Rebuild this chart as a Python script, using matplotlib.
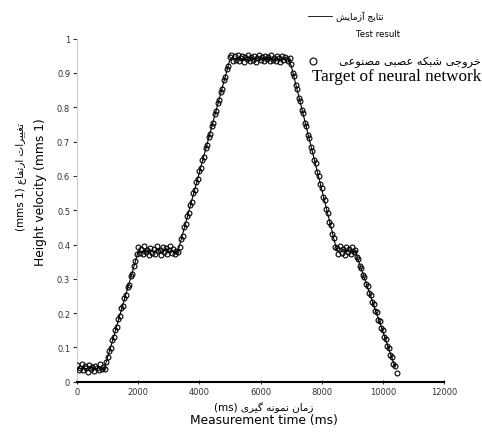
import numpy as np
import matplotlib
matplotlib.use("Agg")
import matplotlib.pyplot as plt
from matplotlib.lines import Line2D

# sampling times (ms)
t_test = np.arange(0, 10500, 100)
t_net = np.arange(0, 10500, 50)

# test result (measured height velocity)
test_result = [
    0.045, 0.038, 0.042, 0.035, 0.044, 0.039, 0.036, 0.043, 0.037, 0.041,
    0.072, 0.102, 0.133, 0.164, 0.195, 0.226, 0.257, 0.287, 0.318, 0.349,
    0.382, 0.376, 0.385, 0.379, 0.384, 0.377, 0.386, 0.381, 0.375, 0.388,
    0.379, 0.383, 0.376, 0.381, 0.413, 0.446, 0.479, 0.512, 0.545, 0.577,
    0.610, 0.643, 0.676, 0.709, 0.742, 0.775, 0.808, 0.841, 0.874, 0.907,
    0.940, 0.944, 0.936, 0.947, 0.939, 0.943, 0.935, 0.946, 0.938, 0.942,
    0.937, 0.945, 0.939, 0.943, 0.936, 0.944, 0.940, 0.937, 0.942, 0.938,
    0.922, 0.886, 0.850, 0.814, 0.778, 0.741, 0.705, 0.669, 0.633, 0.597,
    0.561, 0.525, 0.489, 0.453, 0.416, 0.383, 0.377, 0.386, 0.379, 0.384,
    0.376, 0.381, 0.354, 0.328, 0.302, 0.276, 0.250, 0.224, 0.198, 0.173,
    0.147, 0.121, 0.095, 0.069, 0.043,
]

# neural network output (target)
net_output = [
    0.048, 0.035, 0.041, 0.052, 0.033, 0.046, 0.039, 0.030, 0.050, 0.037,
    0.043, 0.032, 0.047, 0.040, 0.034, 0.051, 0.038, 0.044, 0.036, 0.058,
    0.071, 0.090, 0.099, 0.121, 0.130, 0.151, 0.161, 0.183, 0.192, 0.214,
    0.222, 0.245, 0.254, 0.276, 0.283, 0.307, 0.315, 0.338, 0.352, 0.371,
    0.392, 0.374, 0.386, 0.371, 0.395, 0.378, 0.384, 0.369, 0.391, 0.376,
    0.388, 0.373, 0.397, 0.380, 0.385, 0.370, 0.393, 0.377, 0.389, 0.372,
    0.383, 0.396, 0.375, 0.387, 0.371, 0.382, 0.379,
    0.392, 0.417, 0.426, 0.450, 0.459, 0.483, 0.492, 0.516, 0.525, 0.549,
    0.558, 0.581, 0.590, 0.614, 0.623, 0.647, 0.656, 0.680, 0.689, 0.713,
    0.722, 0.746, 0.755, 0.779, 0.788, 0.812, 0.821, 0.845, 0.854, 0.878,
    0.887, 0.911, 0.920,
    0.945, 0.951, 0.934, 0.948, 0.939, 0.953, 0.936, 0.944, 0.950, 0.933,
    0.947, 0.940, 0.952, 0.935, 0.946, 0.938, 0.949, 0.932, 0.943, 0.951,
    0.937, 0.946, 0.934, 0.950, 0.941, 0.947, 0.935, 0.953, 0.939, 0.944,
    0.936, 0.949, 0.942, 0.933, 0.948, 0.938, 0.945, 0.940, 0.935, 0.943,
    0.926, 0.900, 0.890, 0.864, 0.854, 0.828, 0.818, 0.792, 0.782, 0.755,
    0.745, 0.719, 0.709, 0.683, 0.673, 0.647, 0.637, 0.611, 0.601, 0.575,
    0.565, 0.539, 0.529, 0.503, 0.493, 0.467, 0.457, 0.431, 0.420, 0.394,
    0.389, 0.372, 0.395, 0.376, 0.387, 0.370, 0.392, 0.378, 0.386, 0.371,
    0.394, 0.377, 0.384,
    0.363, 0.358, 0.337, 0.332, 0.311, 0.306, 0.285, 0.280, 0.259, 0.254,
    0.233, 0.228, 0.207, 0.202, 0.181, 0.177, 0.156, 0.151, 0.130, 0.125,
    0.104, 0.099, 0.078, 0.073, 0.052, 0.047, 0.026,
]

x_ticks = [0, 2000, 4000, 6000, 8000, 10000, 12000]
y_ticks = [0, 0.1, 0.2, 0.3, 0.4, 0.5, 0.6, 0.7, 0.8, 0.9, 1]

# presentation forms: isolated, final, initial, medial (2 entries = right-joining only)
FORMS = {
    "\u0627": (0xFE8D, 0xFE8E), "\u0622": (0xFE81, 0xFE82),
    "\u0628": (0xFE8F, 0xFE90, 0xFE91, 0xFE92), "\u062A": (0xFE95, 0xFE96, 0xFE97, 0xFE98),
    "\u062C": (0xFE9D, 0xFE9E, 0xFE9F, 0xFEA0), "\u062E": (0xFEA5, 0xFEA6, 0xFEA7, 0xFEA8),
    "\u0631": (0xFEAD, 0xFEAE), "\u0632": (0xFEAF, 0xFEB0),
    "\u0634": (0xFEB5, 0xFEB6, 0xFEB7, 0xFEB8), "\u0635": (0xFEB9, 0xFEBA, 0xFEBB, 0xFEBC),
    "\u0639": (0xFEC9, 0xFECA, 0xFECB, 0xFECC), "\u063A": (0xFECD, 0xFECE, 0xFECF, 0xFED0),
    "\u0641": (0xFED1, 0xFED2, 0xFED3, 0xFED4), "\u0644": (0xFEDD, 0xFEDE, 0xFEDF, 0xFEE0),
    "\u0645": (0xFEE1, 0xFEE2, 0xFEE3, 0xFEE4), "\u0646": (0xFEE5, 0xFEE6, 0xFEE7, 0xFEE8),
    "\u0647": (0xFEE9, 0xFEEA, 0xFEEB, 0xFEEC), "\u0648": (0xFEED, 0xFEEE),
    "\u06CC": (0xFBFC, 0xFBFD, 0xFBFE, 0xFBFF), "\u06A9": (0xFB8E, 0xFB8F, 0xFB90, 0xFB91),
    "\u06AF": (0xFB92, 0xFB93, 0xFB94, 0xFB95),
}


def fa(s):
    # crude arabic shaping + right-to-left ordering for matplotlib
    out = []
    for i, c in enumerate(s):
        if c not in FORMS:
            out.append(c)
            continue
        f = FORMS[c]
        prev = s[i - 1] if i > 0 else ""
        nxt = s[i + 1] if i + 1 < len(s) else ""
        jp = prev in FORMS and len(FORMS[prev]) == 4
        jn = len(f) == 4 and nxt in FORMS
        if jp and jn:
            g = f[3]
        elif jp:
            g = f[1]
        elif jn:
            g = f[2]
        else:
            g = f[0]
        out.append(chr(g))
    return "".join(reversed(out))


plt.rcParams["font.family"] = ["DejaVu Sans"]

fig = plt.figure(figsize=(4.82, 4.35), dpi=100)
ax = fig.add_axes([0.160, 0.120, 0.761, 0.789])

ax.plot(t_test, test_result, color="black", lw=0.8, zorder=2)
ax.plot(t_net, net_output, linestyle="none", marker="o", markersize=3.5,
        markerfacecolor="none", markeredgecolor="black", markeredgewidth=0.8, zorder=3)

ax.set_xlim(0, 12000)
ax.set_ylim(0, 1)
ax.set_xticks(x_ticks)
ax.set_xticklabels([str(v) for v in x_ticks])
ax.set_yticks(y_ticks)
ax.set_yticklabels(["0", "0.1", "0.2", "0.3", "0.4", "0.5", "0.6", "0.7", "0.8", "0.9", "1"])
ax.tick_params(axis="both", labelsize=6, colors="#333333", length=3, width=0.8)
ax.tick_params(axis="x", direction="inout", pad=2)
ax.tick_params(axis="y", pad=2)

ax.spines["top"].set_visible(False)
ax.spines["right"].set_visible(False)
ax.spines["left"].set_color("#cccccc")
ax.spines["left"].set_linewidth(0.8)
ax.spines["bottom"].set_color("black")
ax.spines["bottom"].set_linewidth(1.5)

# axis labels (Persian + English)
fig.text(0.042, 0.593, "(mms 1) " + fa("تغییرات ارتفاع"), rotation=90,
         ha="center", va="center", fontsize=7.5)
fig.text(0.083, 0.558, "Height velocity (mms 1)", rotation=90,
         ha="center", va="center", fontsize=8.8)
fig.text(0.548, 0.062, "(ms) " + fa("زمان نمونه گیری"), ha="center", va="center",
         fontsize=7.5)
fig.text(0.548, 0.034, "Measurement time (ms)", ha="center", va="center", fontsize=8.8)

# legend drawn by hand
fig.add_artist(Line2D([0.639, 0.689], [0.961, 0.961], color="black", lw=0.6))
fig.text(0.697, 0.961, fa("نتایج آزمایش"), ha="left", va="center", fontsize=6.5)
fig.text(0.784, 0.920, "Test result", ha="center", va="center", fontsize=6.2)
fig.add_artist(Line2D([0.650], [0.857], marker="o", markersize=5, markerfacecolor="none",
                      markeredgecolor="black", markeredgewidth=0.8))
fig.text(0.998, 0.857, fa("خروجی شبکه عصبی مصنوعی"), ha="right", va="center", fontsize=8.2)
fig.text(0.998, 0.822, "Target of neural network", ha="right", va="center",
         fontsize=12.3, family="Liberation Serif")

fig.savefig("out.png", dpi=100)
